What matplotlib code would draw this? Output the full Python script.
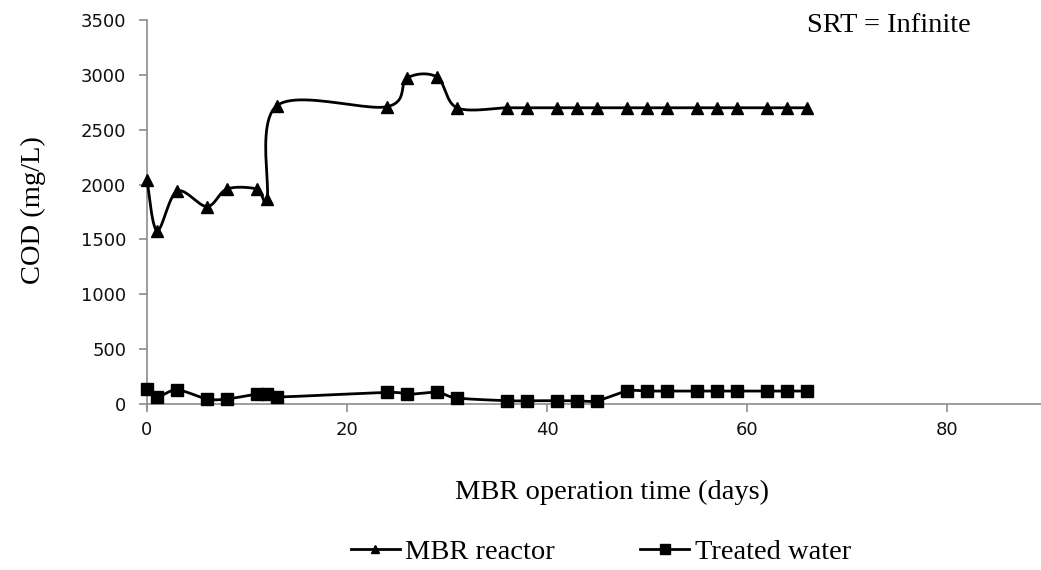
import numpy as np
import matplotlib
matplotlib.use("Agg")
import matplotlib.pyplot as plt
from matplotlib.lines import Line2D

# operation days
days = [0, 1, 3, 6, 8, 11, 12, 13, 24, 26, 29, 31, 36, 38, 41, 43, 45,
        48, 50, 52, 55, 57, 59, 62, 64, 66]

# COD in the reactor (mg/L)
reactor_cod = [2040, 1580, 1940, 1800, 1960, 1960, 1870, 2720, 2710, 2970, 2980, 2700,
               2700, 2700, 2700, 2700, 2700,
               2700, 2700, 2700, 2700, 2700, 2700, 2700, 2700, 2700]

# COD of the permeate (mg/L)
treated_cod = [134, 64, 128, 46, 46, 91, 91, 64, 105, 88, 105, 55,
               30, 30, 30, 30, 30,
               118, 118, 118, 118, 118, 118, 118, 118, 118]

x_ticks = [0, 20, 40, 60, 80]
y_ticks = [0, 500, 1000, 1500, 2000, 2500, 3000, 3500]


def smooth_path(x, y, n=24):
    # Excel style smoothed line (Catmull-Rom as cubic bezier)
    x = np.asarray(x, float)
    y = np.asarray(y, float)
    px = np.concatenate([[x[0]], x, [x[-1]]])
    py = np.concatenate([[y[0]], y, [y[-1]]])
    xs, ys = [], []
    t = np.linspace(0, 1, n)
    for i in range(1, len(px) - 2):
        p0 = np.array([px[i], py[i]])
        p3 = np.array([px[i + 1], py[i + 1]])
        c1 = p0 + (p3 - np.array([px[i - 1], py[i - 1]])) / 6
        c2 = p3 - (np.array([px[i + 2], py[i + 2]]) - p0) / 6
        b = ((1 - t) ** 3)[:, None] * p0 + (3 * (1 - t) ** 2 * t)[:, None] * c1 \
            + (3 * (1 - t) * t ** 2)[:, None] * c2 + (t ** 3)[:, None] * p3
        xs.extend(b[:, 0])
        ys.extend(b[:, 1])
    return xs, ys


fig = plt.figure(figsize=(10.41, 5.70), dpi=100)
ax = fig.add_axes([147 / 1041, 166 / 570, 900 / 1041, 384 / 570])

serif = "Liberation Serif"

sx, sy = smooth_path(days, reactor_cod)
ax.plot(sx, sy, color="black", lw=2.0, solid_capstyle="round", clip_on=False)
ax.plot(days, reactor_cod, ls="none", marker="^", ms=9, color="black", clip_on=False)

sx, sy = smooth_path(days, treated_cod)
ax.plot(sx, sy, color="black", lw=2.0, solid_capstyle="round", clip_on=False)
ax.plot(days, treated_cod, ls="none", marker="s", ms=8.5, color="black", clip_on=False)

ax.set_xlim(0, 90)
ax.set_ylim(0, 3500)
ax.set_xticks(x_ticks)
ax.set_yticks(y_ticks)

for s in ["top", "right"]:
    ax.spines[s].set_visible(False)
for s in ["left", "bottom"]:
    ax.spines[s].set_color("#8c8c8c")
    ax.spines[s].set_linewidth(1.2)
    ax.spines[s].set_zorder(0.5)
ax.tick_params(axis="both", direction="out", color="#8c8c8c", width=1.2,
               length=6, labelsize=13, labelcolor="#111111")
ax.tick_params(axis="y", pad=9)
ax.tick_params(axis="x", pad=6)
ax.spines["left"].set_bounds(-40, 3500)

fig.text(33 / 1041, 1 - 210 / 570, "COD (mg/L)", rotation=90, ha="center", va="center",
         family=serif, fontsize=20.5)
fig.text(612 / 1041, 1 - 492 / 570, "MBR operation time (days)", ha="center", va="center",
         family=serif, fontsize=20.5)
fig.text(889 / 1041, 1 - 25 / 570, "SRT = Infinite", ha="center", va="center",
         family=serif, fontsize=20.5)

handles = [
    Line2D([], [], color="black", lw=2.0, marker="^", ms=6),
    Line2D([], [], color="black", lw=2.0, marker="s", ms=7),
]
fig.legend(handles, ["MBR reactor", "Treated water"], loc="center",
           bbox_to_anchor=(601 / 1041, 1 - 552 / 570), ncol=2, frameon=False,
           prop={"family": serif, "size": 20.5}, handlelength=1.7, handletextpad=0.2,
           columnspacing=3.0, borderaxespad=0)

fig.savefig("out.png", dpi=100)
